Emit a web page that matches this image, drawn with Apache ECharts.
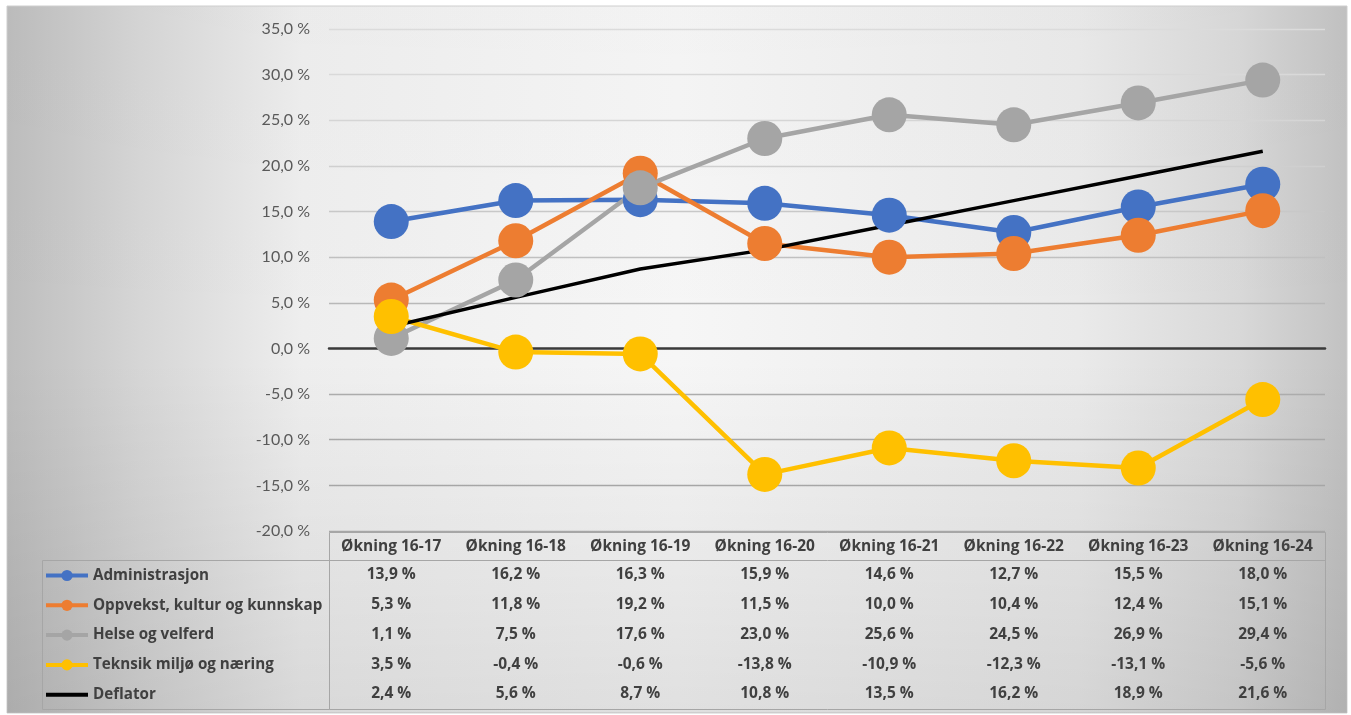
<!DOCTYPE html>
<html>
<head>
<meta charset="utf-8">
<script src="https://cdn.jsdelivr.net/npm/echarts@6/dist/echarts.min.js"></script>
<style>
html,body{margin:0;padding:0;background:#fff;}
#chart{width:1351px;height:715px;}
</style>
</head>
<body>
<div id="chart"></div>
<script>
const categories = ['Økning 16-17','Økning 16-18','Økning 16-19','Økning 16-20','Økning 16-21','Økning 16-22','Økning 16-23','Økning 16-24'];
const seriesNames = ['Administrasjon','Oppvekst, kultur og kunnskap','Helse og velferd','Teknsik miljø og næring','Deflator'];
const administrasjon = [13.9,16.2,16.3,15.9,14.6,12.7,15.5,18.0];
const oppvekst = [5.3,11.8,19.2,11.5,10.0,10.4,12.4,15.1];
const helse = [1.1,7.5,17.6,23.0,25.6,24.5,26.9,29.4];
const teknisk = [3.5,-0.4,-0.6,-13.8,-10.9,-12.3,-13.1,-5.6];
const deflator = [2.4,5.6,8.7,10.8,13.5,16.2,18.9,21.6];
const yTicks = {min:-20, max:35, interval:5};

const allData = [administrasjon, oppvekst, helse, teknisk, deflator];
const colors = ['#4472C4','#ED7D31','#A5A5A5','#FFC000','#000000'];
const FONT = '"Open Sans", Lato, sans-serif';
const AXFONT = 'Lato, "Open Sans", sans-serif';
const fmt = v => v.toFixed(1).replace('.', ',') + ' %';

const rowOffsets = [28, 58, 88, 118, 147];
const tableText = {fontFamily:FONT, fontSize:15.5, fontWeight:'bold', color:'#404040'};
const legendText = {fontFamily:FONT, fontSize:15.2, fontWeight:'bold', color:'#404040'};

const xAxes = [
  { type:'category', data:categories, position:'bottom', boundaryGap:true,
    axisLine:{show:false, onZero:false}, axisTick:{show:false},
    axisLabel:Object.assign({interval:0, margin:8}, tableText) },
  { type:'category', data:categories, boundaryGap:true,
    axisLine:{show:true, onZero:true, lineStyle:{color:'#3a3a3a', width:2.5}},
    axisTick:{show:false}, axisLabel:{show:false} }
];
allData.forEach((arr, k) => {
  xAxes.push({ type:'category', data:categories, position:'bottom', offset:rowOffsets[k], boundaryGap:true,
    axisLine:{show:false, onZero:false}, axisTick:{show:false},
    axisLabel:Object.assign({interval:0, margin:8, formatter:(v, i) => fmt(arr[i])}, tableText) });
});

const series = allData.map((arr, k) => {
  const isDef = k === 4;
  return {
    name: seriesNames[k], type:'line', data: arr, xAxisIndex:0,
    symbol: isDef ? 'none' : 'circle', symbolSize: 35,
    lineStyle:{color:colors[k], width: isDef ? 3.5 : 4.5},
    itemStyle:{color:colors[k]},
    emphasis:{disabled:true}, animation:false
  };
});

const legendData = seriesNames.map((n, k) => k === 4
  ? {name:n, icon:'path://M0,0L0,0M0,5L42,5L42,9L0,9ZM42,14L42,14'}
  : {name:n});

const gridColors = ['#a6a6a6','#a6a6a6','#a8a8a8','#acacac','rgba(0,0,0,0)','#b8b8b8','#c0c0c0','#c8c8c8','#cfcfcf','#d5d5d5','#d9d9d9','#dbdbdb'];

const chart = echarts.init(document.getElementById('chart'));
chart.setOption({
  animation:false,
  graphic:[
    { type:'rect', z:-10, silent:true, shape:{x:7, y:6, width:1340, height:707},
      style:{ fill:{type:'linear', x:0, y:0, x2:1, y2:0, colorStops:[
        {offset:0, color:'#bdbdbd'},{offset:0.1, color:'#d6d6d6'},{offset:0.22, color:'#eeeeee'},
        {offset:0.5, color:'#f6f6f6'},{offset:0.8, color:'#eaeaea'},{offset:0.92, color:'#d8d8d8'},{offset:1, color:'#c2c2c2'}]},
        stroke:'#cfcfcf', lineWidth:1 } },
    { type:'rect', z:-9, silent:true, shape:{x:7, y:6, width:1340, height:707},
      style:{ fill:{type:'linear', x:0, y:0, x2:0, y2:1, colorStops:[
        {offset:0, color:'rgba(0,0,0,0.01)'},{offset:0.5, color:'rgba(0,0,0,0)'},{offset:1, color:'rgba(0,0,0,0.09)'}]} } },
    { type:'rect', z:-5, silent:true, shape:{x:329.5, y:532.5, width:996, height:177},
      style:{fill:'transparent', stroke:'#a6a6a6', lineWidth:1} },
    { type:'rect', z:-5, silent:true, shape:{x:42.5, y:560.5, width:287, height:149},
      style:{fill:'transparent', stroke:'#a6a6a6', lineWidth:1} },
    { type:'line', z:-5, silent:true, shape:{x1:329.5, y1:560.5, x2:1325.5, y2:560.5},
      style:{stroke:'#a6a6a6', lineWidth:1} }
  ],
  grid:{left:329, right:26, top:29, bottom:184, containLabel:false},
  legend:{ orient:'vertical', left:44, top:568, height:170, padding:0,
    itemWidth:42, itemHeight:14, itemGap:14.8,
    data: legendData,
    lineStyle:{width:4},
    textStyle:Object.assign({lineHeight:14}, legendText),
    selectedMode:false },
  xAxis: xAxes,
  yAxis:{ type:'value', min:yTicks.min, max:yTicks.max, interval:yTicks.interval,
    axisLine:{show:false}, axisTick:{show:false},
    axisLabel:{margin:19, fontFamily:AXFONT, fontSize:16, color:'#595959', formatter:v => fmt(v)},
    splitLine:{lineStyle:{color:gridColors, width:1.3}} },
  series: series
});
</script>
</body>
</html>
